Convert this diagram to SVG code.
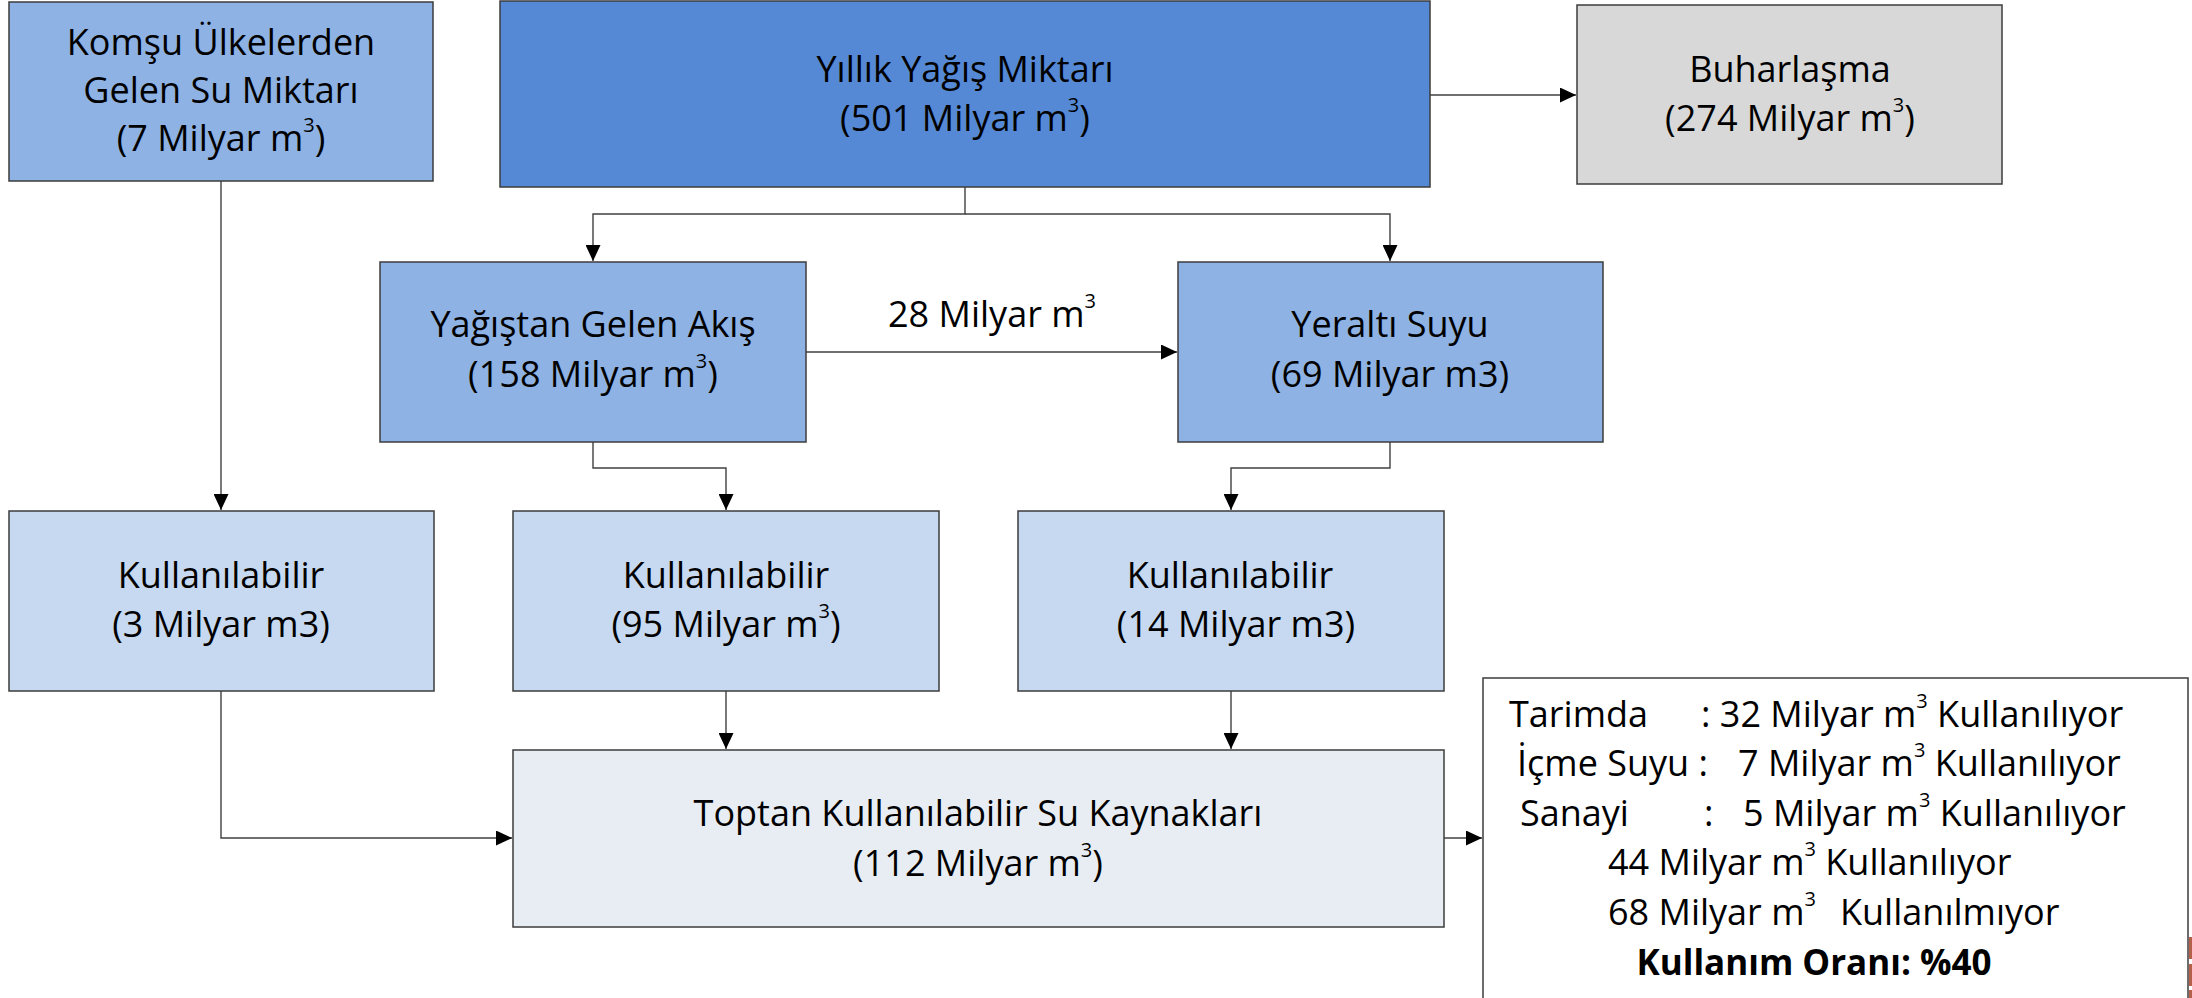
<svg xmlns="http://www.w3.org/2000/svg" width="2192" height="998" viewBox="0 0 2192 998">
<style>
  .box { stroke: #3c3c3c; stroke-width: 1.5; }
  .mid { fill: #8db2e3; }
  .dark { fill: #5589d5; }
  .gray { fill: #d8d8d8; }
  .light { fill: #c6d9f0; }
  .pale { fill: #e8edf4; }
  .white { fill: #ffffff; }
  text { font-family: "Open Sans", "Noto Sans", sans-serif; font-size: 36px; fill: #000; }
  .c { text-anchor: middle; }
  .sup { font-size: 20px; }
  .b { font-weight: bold; font-size: 35px; }
  .conn { fill: none; stroke: #404040; stroke-width: 1.4; }
</style>
<defs>
  <marker id="arr" markerUnits="userSpaceOnUse" markerWidth="17" markerHeight="15" refX="16" refY="7.5" orient="auto">
    <path d="M0,0 L16,7.5 L0,15 Z" fill="#000"/>
  </marker>
</defs>
<rect width="2192" height="998" fill="#ffffff"/>

<g id="connectors">
  <path class="conn" d="M1430,95 H1576" marker-end="url(#arr)"/>
  <path class="conn" d="M965,187 V214 H593 V261" marker-end="url(#arr)"/>
  <path class="conn" d="M965,214 H1390 V261" marker-end="url(#arr)"/>
  <path class="conn" d="M806,352 H1177" marker-end="url(#arr)"/>
  <text class="c" x="992" y="327">28 Milyar m<tspan class="sup" dy="-19">3</tspan></text>
  <path class="conn" d="M221,181 V510" marker-end="url(#arr)"/>
  <path class="conn" d="M593,442 V468 H726 V510" marker-end="url(#arr)"/>
  <path class="conn" d="M1390,442 V468 H1231 V510" marker-end="url(#arr)"/>
  <path class="conn" d="M221,691 V838 H512" marker-end="url(#arr)"/>
  <path class="conn" d="M726,691 V749" marker-end="url(#arr)"/>
  <path class="conn" d="M1231,691 V749" marker-end="url(#arr)"/>
  <path class="conn" d="M1444,838 H1482" marker-end="url(#arr)"/>
</g>

<g id="komsu">
  <rect class="box mid" x="9" y="2" width="424" height="179"/>
  <text class="c" x="221" y="55">Komşu Ülkelerden</text>
  <text class="c" x="221" y="103">Gelen Su Miktarı</text>
  <text class="c" x="221" y="151">(7 Milyar m<tspan class="sup" dy="-19">3</tspan><tspan dy="19">)</tspan></text>
</g>

<g id="yillik">
  <rect class="box dark" x="500" y="1" width="930" height="186"/>
  <text class="c" x="965" y="82">Yıllık Yağış Miktarı</text>
  <text class="c" x="965" y="131">(501 Milyar m<tspan class="sup" dy="-19">3</tspan><tspan dy="19">)</tspan></text>
</g>

<g id="buharlasma">
  <rect class="box gray" x="1577" y="5" width="425" height="179"/>
  <text class="c" x="1790" y="82">Buharlaşma</text>
  <text class="c" x="1790" y="131">(274 Milyar m<tspan class="sup" dy="-19">3</tspan><tspan dy="19">)</tspan></text>
</g>

<g id="yagistan">
  <rect class="box mid" x="380" y="262" width="426" height="180"/>
  <text class="c" x="593" y="337">Yağıştan Gelen Akış</text>
  <text class="c" x="593" y="387">(158 Milyar m<tspan class="sup" dy="-19">3</tspan><tspan dy="19">)</tspan></text>
</g>

<g id="yeralti">
  <rect class="box mid" x="1178" y="262" width="425" height="180"/>
  <text class="c" x="1390" y="337">Yeraltı Suyu</text>
  <text class="c" x="1390" y="387">(69 Milyar m3)</text>
</g>

<g id="kullanilabilir1">
  <rect class="box light" x="9" y="511" width="425" height="180"/>
  <text class="c" x="221" y="588">Kullanılabilir</text>
  <text class="c" x="221" y="637">(3 Milyar m3)</text>
</g>

<g id="kullanilabilir2">
  <rect class="box light" x="513" y="511" width="426" height="180"/>
  <text class="c" x="726" y="588">Kullanılabilir</text>
  <text class="c" x="726" y="637">(95 Milyar m<tspan class="sup" dy="-19">3</tspan><tspan dy="19">)</tspan></text>
</g>

<g id="kullanilabilir3">
  <rect class="box light" x="1018" y="511" width="426" height="180"/>
  <text class="c" x="1230" y="588">Kullanılabilir</text>
  <text class="c" x="1236" y="637">(14 Milyar m3)</text>
</g>

<g id="toptan">
  <rect class="box pale" x="513" y="750" width="931" height="177"/>
  <text class="c" x="978" y="826">Toptan Kullanılabilir Su Kaynakları</text>
  <text class="c" x="978" y="876">(112 Milyar m<tspan class="sup" dy="-19">3</tspan><tspan dy="19">)</tspan></text>
</g>

<g id="kullanim">
  <rect class="box white" x="1483" y="678" width="705" height="340"/>
  <text x="1509" y="727">Tarimda</text>
  <text x="1701" y="727">: 32 Milyar m<tspan class="sup" dy="-19">3</tspan><tspan dy="19"> Kullanılıyor</tspan></text>
  <text x="1517" y="776">İçme Suyu :</text>
  <text x="1738" y="776">7 Milyar m<tspan class="sup" dy="-19">3</tspan><tspan dy="19"> Kullanılıyor</tspan></text>
  <text x="1520" y="826">Sanayi</text>
  <text x="1704" y="826">:</text>
  <text x="1743" y="826">5 Milyar m<tspan class="sup" dy="-19">3</tspan><tspan dy="19"> Kullanılıyor</tspan></text>
  <text x="1608" y="875">44 Milyar m<tspan class="sup" dy="-19">3</tspan><tspan dy="19"> Kullanılıyor</tspan></text>
  <text x="1608" y="925">68 Milyar m<tspan class="sup" dy="-19">3</tspan><tspan dy="19" x="1840">Kullanılmıyor</tspan></text>
  <text class="c b" x="1814" y="975">Kullanım Oranı: %40</text>
</g>

<g id="edge-fragment" fill="#b5604a">
  <rect x="2189" y="937" width="3" height="22"/>
  <rect x="2189" y="964" width="3" height="22"/>
  <rect x="2189" y="990" width="3" height="8"/>
</g>
</svg>
